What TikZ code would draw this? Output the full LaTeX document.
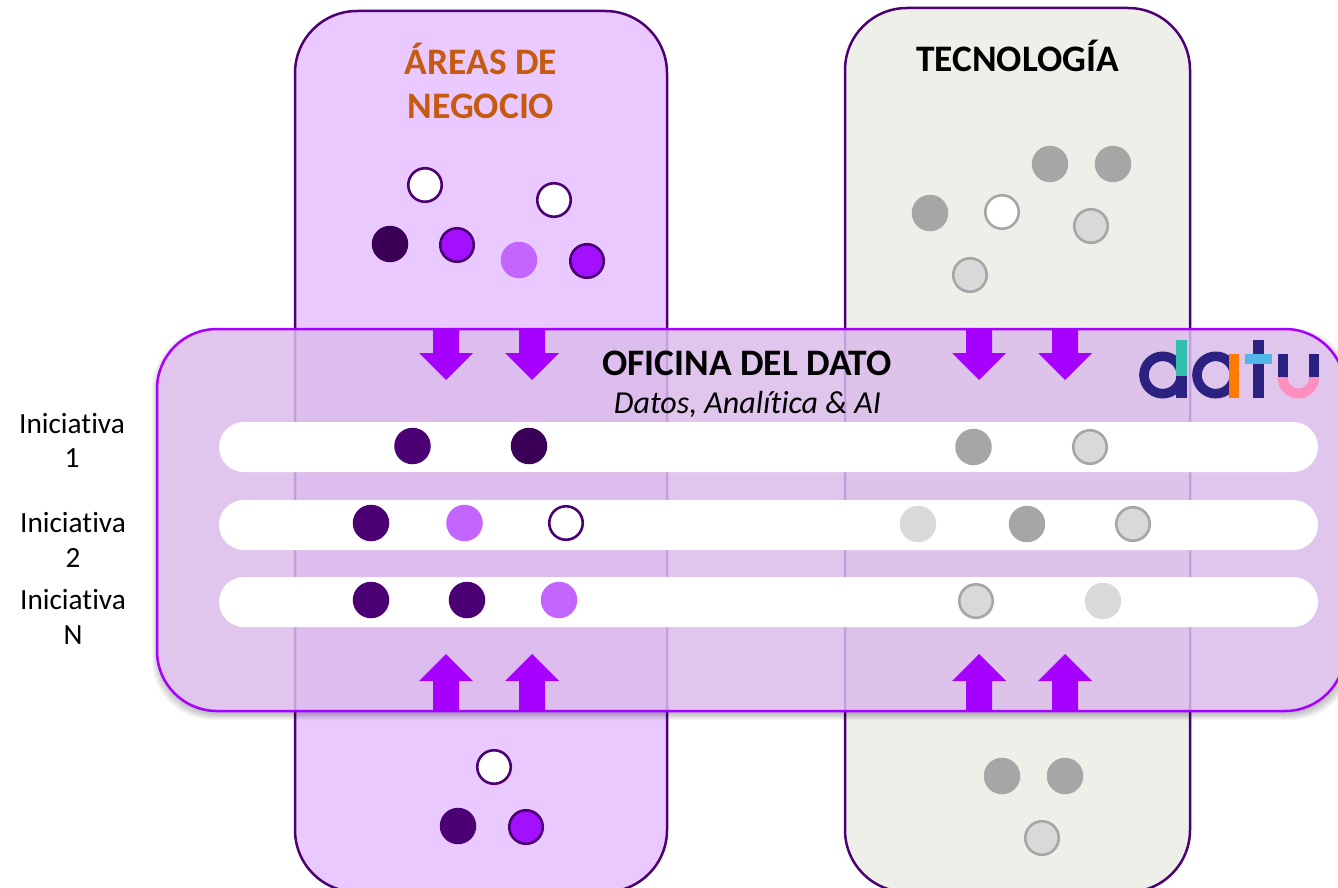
\documentclass[tikz,border=0pt]{standalone}
\usepackage{fontspec}
\setmainfont{Carlito}[Ligatures=NoCommon]
\definecolor{deepv}{HTML}{4B0073}
\definecolor{darkv}{HTML}{3A0055}
\definecolor{vivid}{HTML}{A600FF}
\definecolor{midv}{HTML}{A30FFF}
\definecolor{lightv}{HTML}{C266FF}
\definecolor{panelv}{HTML}{E9C9FF}
\definecolor{panelg}{HTML}{EEEFE9}
\definecolor{veil}{HTML}{DBBCEB}
\definecolor{greyd}{HTML}{A6A6A6}
\definecolor{greyl}{HTML}{D9D9D9}
\definecolor{headc}{HTML}{C55A11}
\definecolor{lnavy}{HTML}{2A2180}
\definecolor{lteal}{HTML}{33BFAE}
\definecolor{lorange}{HTML}{FF7A00}
\definecolor{lblue}{HTML}{52B6E8}
\definecolor{lpink}{HTML}{FF8FBE}
\tikzset{
  x=1pt,y=-1pt,
  panelbox/.style={draw=deepv,line width=2.5pt,rounded corners=62pt,outer sep=0pt,inner sep=0pt},
  veilbox/.style={draw=vivid,line width=2.5pt,fill=veil,fill opacity=.85,rounded corners=60pt,outer sep=0pt,inner sep=0pt},
  rowbar/.style={fill=white,rounded corners=25pt,minimum width=1099pt,minimum height=50pt,outer sep=0pt,inner sep=0pt},
  dot/.style={circle,minimum size=36.5pt,inner sep=0pt,outer sep=0pt},
  ringdot/.style={circle,minimum size=33.5pt,inner sep=0pt,outer sep=0pt,line width=2.6pt},
  dotdark/.style={dot,fill=darkv},
  dotdeep/.style={dot,fill=deepv},
  dotlight/.style={dot,fill=lightv},
  dotmid/.style={ringdot,draw=deepv,fill=midv},
  dotwhite/.style={ringdot,draw=deepv,fill=white},
  dotgrey/.style={dot,fill=greyd},
  dotpale/.style={dot,fill=greyl},
  dotring/.style={ringdot,draw=greyd,fill=greyl},
  dotgwhite/.style={ringdot,draw=greyd,fill=white},
  headtext/.style={font=\fontsize{37.4}{44}\selectfont\bfseries,align=center,inner sep=0pt},
  sidetext/.style={font=\fontsize{29.3}{34.5}\selectfont,align=center,inner sep=0pt},
}
\newcommand{\downblock}[1]{\fill[vivid] (#1-13,329) -- (#1+13,329) -- (#1+13,353) -- (#1+27,353) -- (#1,380) -- (#1-27,353) -- (#1-13,353) -- cycle;}
\newcommand{\upblock}[1]{\fill[vivid] (#1-13,711) -- (#1+13,711) -- (#1+13,681) -- (#1+27,681) -- (#1,654) -- (#1-27,681) -- (#1-13,681) -- cycle;}
\begin{document}
\begin{tikzpicture}
\clip (0,0) rectangle (1338,888);
\fill[white] (0,0) rectangle (1338,888);
% columns
\node[panelbox,fill=panelv,minimum width=372pt,minimum height=881pt] (areas) at (481,451.5) {};
\node[panelbox,fill=panelg,minimum width=345pt,minimum height=884pt] (tech) at (1017.5,450) {};
\node[headtext,text=headc] (areastitle) at (481,81) {ÁREAS DE\\NEGOCIO};
\node[headtext,text=black] (techtitle) at (1017.5,55.5) {TECNOLOGÍA};
% top dots
\node[dotwhite] (a1) at (425,185) {};
\node[dotwhite] (a2) at (554,200) {};
\node[dotdark] (a3) at (390,244) {};
\node[dotmid] (a4) at (457,245) {};
\node[dotlight] (a5) at (519,260) {};
\node[dotmid] (a6) at (587,261) {};
\node[dotgrey] (t1) at (1050,164) {};
\node[dotgrey] (t2) at (1113,164) {};
\node[dotgrey] (t3) at (930,213) {};
\node[dotgwhite] (t4) at (1002,212) {};
\node[dotring] (t5) at (1091,226) {};
\node[dotring] (t6) at (970,275) {};
% bottom dots
\node[dotwhite] (b1) at (494,767) {};
\node[dotdeep] (b2) at (458,826) {};
\node[dotmid] (b3) at (526,827) {};
\node[dotgrey] (u1) at (1002,776) {};
\node[dotgrey] (u2) at (1065,776) {};
\node[dotring] (u3) at (1042,838) {};
% shadow
\begin{scope}
\pgfseteorule
\clip (0,0) rectangle (1338,888) [rounded corners=60pt] (157,329) rectangle (1345,711);
\foreach \s in {6,5,4,3,2,1,0}{
  \fill[black,opacity=.035,rounded corners=60pt] (157+1-\s,329+5-\s) rectangle (1345+1+\s,711+3+\s);
}
\end{scope}
% veil
\node[veilbox,minimum width=1188pt,minimum height=382pt] (office) at (751,520) {};
% arrows
\downblock{446}\downblock{532}\downblock{979}\downblock{1065}
\upblock{446}\upblock{532}\upblock{979}\upblock{1065}
\node[font=\fontsize{37.4}{44}\selectfont\bfseries,inner sep=0pt] (officetitle) at (747,363) {OFICINA DEL DATO};
\node[font=\fontsize{32}{38}\selectfont\itshape,inner sep=0pt] (officesub) at (747.5,404) {Datos, Analítica \& AI};
% rows
\node[rowbar] (row1) at (768.5,447) {};
\node[rowbar] (row2) at (768.5,525) {};
\node[rowbar] (row3) at (768.5,602) {};
\node[sidetext] (lab1) at (72,440.5) {Iniciativa\\1};
\node[sidetext] (lab2) at (73,540) {Iniciativa\\2};
\node[sidetext] (lab3) at (73,617) {Iniciativa\\N};
\node[dotdeep] (r11) at (412.5,446) {};
\node[dotdark] (r12) at (529,446) {};
\node[dotgrey] (r13) at (973.5,447) {};
\node[dotring] (r14) at (1090,447) {};
\node[dotdeep] (r21) at (371,523) {};
\node[dotlight] (r22) at (464.5,523) {};
\node[dotwhite] (r23) at (566,523) {};
\node[dotpale] (r24) at (918,524) {};
\node[dotgrey] (r25) at (1027,524) {};
\node[dotring] (r26) at (1133,524) {};
\node[dotdeep] (r31) at (371,600) {};
\node[dotdeep] (r32) at (467,600) {};
\node[dotlight] (r33) at (559,600) {};
\node[dotring] (r34) at (976,601) {};
\node[dotpale] (r35) at (1103,601) {};
% logo
\draw[lnavy,line width=9.6pt] (1162.7,375) circle (18.7);
\fill[lteal] (1176.3,340) rectangle (1186.7,375.7);
\fill[lnavy] (1176.3,375.7) rectangle (1186.7,398.3);
\draw[lnavy,line width=9.6pt] (1215.7,375) circle (18.7);
\fill[lorange] (1229,353.7) rectangle (1239,398.3);
\fill[lnavy] (1253.3,340) rectangle (1263.7,398.3);
\fill[lblue] (1245,353.7) rectangle (1271.7,363.7);
\fill[lnavy] (1277.7,353.7) rectangle (1287.7,377.7);
\fill[lnavy] (1309,353.7) rectangle (1319,377.7);
\begin{scope}
\clip (1270,377.7) rectangle (1325,402);
\draw[lpink,line width=10pt] (1298.3,377.7) circle (15.65);
\end{scope}
\end{tikzpicture}
\end{document}
